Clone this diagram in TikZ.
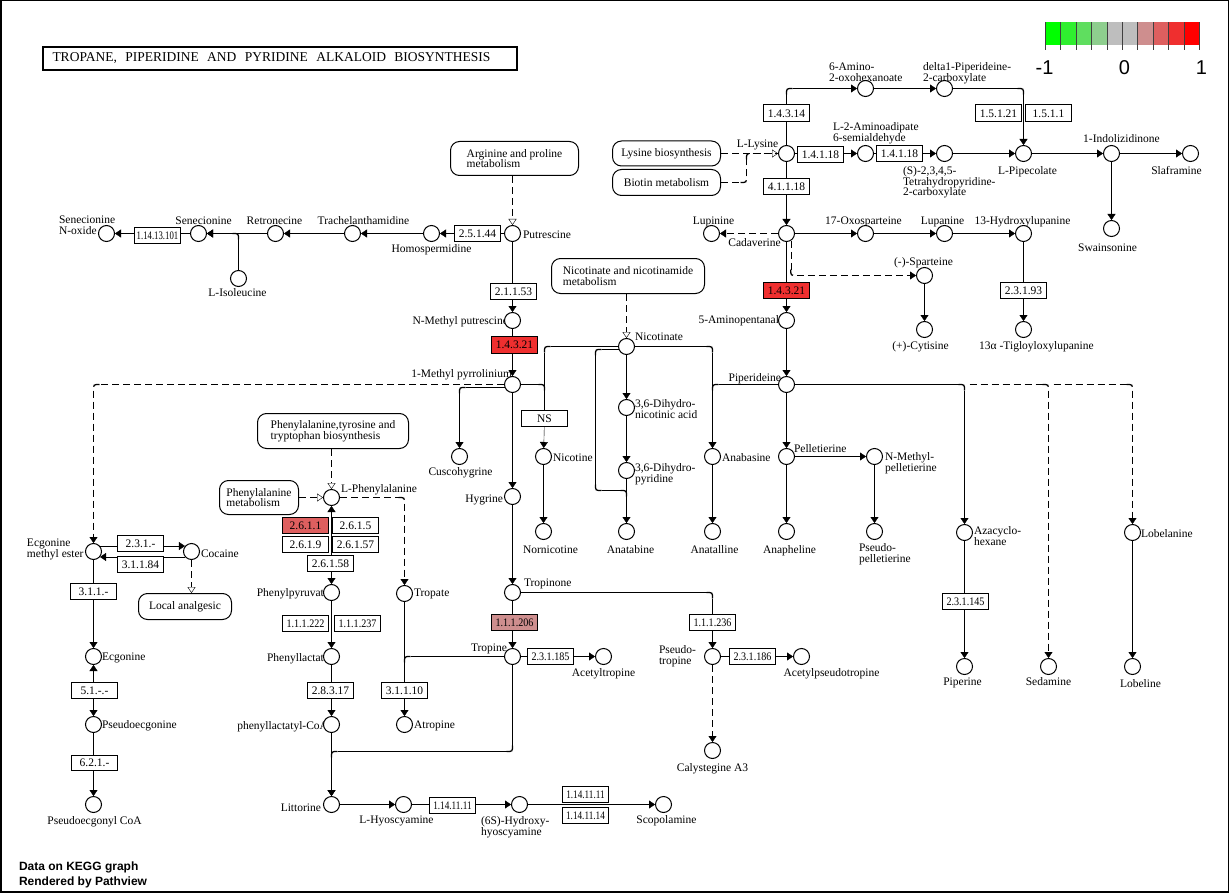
\documentclass[tikz,border=0pt]{standalone}
\usepackage{fontspec}
\usepackage{graphicx}
\setmainfont{Liberation Serif}
\newfontfamily\sansf{Liberation Sans}
\usetikzlibrary{arrows.meta,calc}
\pgfdeclarelayer{background}
\pgfsetlayers{background,main}
\newcommand\lab{\fontsize{11.5}{10.5}\selectfont}
\newcommand\sq[2]{\scalebox{#1}[1]{#2}}
\definecolor{hi1}{HTML}{EF2F2F}
\definecolor{hi2}{HTML}{DE5F5F}
\definecolor{hi3}{HTML}{CE8E8E}
% connector with one rounded corner: style, end style, start, corner, end
\newcommand\rcA[5]{%
  \draw[#1] (#3) -- ($(#4)!6pt!(#3)$);
  \draw[#1,line width=1.3pt] ($(#4)!6pt!(#3)$) .. controls (#4) .. ($(#4)!6pt!(#5)$);
  \draw[#1,#2] ($(#4)!6pt!(#5)$) -- (#5);}
% connector with two rounded corners
\newcommand\rcB[6]{%
  \draw[#1] (#3) -- ($(#4)!6pt!(#3)$);
  \draw[#1,line width=1.3pt] ($(#4)!6pt!(#3)$) .. controls (#4) .. ($(#4)!6pt!(#5)$);
  \draw[#1] ($(#4)!6pt!(#5)$) -- ($(#5)!6pt!(#4)$);
  \draw[#1,line width=1.3pt] ($(#5)!6pt!(#4)$) .. controls (#5) .. ($(#5)!6pt!(#6)$);
  \draw[#1,#2] ($(#5)!6pt!(#6)$) -- (#6);}
\tikzset{
 arr/.style={-{Triangle[length=6pt,width=8pt]}},
 arrb/.style={{Triangle[length=6pt,width=8pt]}-{Triangle[length=6pt,width=8pt]}},
 arro/.style={-{Triangle[open,length=6pt,width=8pt,fill=white]}},
 cpd/.style={circle,draw,fill=white,minimum size=16pt,inner sep=0pt,line width=1pt},
 enz/.style={rectangle,draw,fill=white,minimum width=46pt,minimum height=16pt,inner sep=0pt,line width=1pt,font=\fontsize{11.5}{12}\selectfont},
 mapb/.style={rectangle,rounded corners=9pt,draw,fill=white,align=left,inner sep=0pt,line width=1pt,font=\lab},
 lab/.style={inner sep=0pt,font=\lab},
 lab2/.style={inner sep=0pt,font=\lab,align=left,anchor=north west},
 dsh/.style={dash pattern=on 7pt off 4pt},
}
\begin{document}
\begin{tikzpicture}[x=1pt,y=-1pt,line width=1pt,shift={(0.5,0.5)}]
\useasboundingbox (-0.5,-0.5) rectangle (1229.5,892.5);
\draw[line width=1.2pt] (0.5,0) rectangle (1228,891.5);

% title
\node[draw,line width=2pt,anchor=west,inner xsep=0pt,minimum height=23pt,font=\fontsize{13.5}{14}\selectfont] (title) at (41,58)
 {\makebox[474pt][l]{\hspace{10pt}\makebox[438pt][s]{TROPANE, PIPERIDINE AND PYRIDINE ALKALOID BIOSYNTHESIS}}};

% legend
\foreach \c [count=\i from 0] in {00FF00,2FEF2F,5FDE5F,8ECE8E,BEBEBE,BEBEBE,CE8E8E,DE5F5F,EF2F2F,FF0000}{
  \definecolor{tmpc}{HTML}{\c}
  \fill[tmpc] ({1044.5+\i*15.4},21.5) rectangle ++(15.4,23);
}
\foreach \i in {0,...,10}{\draw[line width=1pt,black!75] ({1045+\i*15.4},22) -- ++(0,28);}
\node[inner sep=0pt,font=\sansf\fontsize{20}{20}\selectfont] (lgA) at (1044,67) {-1};
\node[inner sep=0pt,font=\sansf\fontsize{20}{20}\selectfont] (lgB) at (1124,67) {0};
\node[inner sep=0pt,font=\sansf\fontsize{20}{20}\selectfont] (lgC) at (1201,67) {1};

% footer
\node[anchor=base west,inner sep=0pt,font=\sansf\bfseries\fontsize{12}{12}\selectfont] (ftA) at (18,870) {Data on KEGG graph};
\node[anchor=base west,inner sep=0pt,font=\sansf\bfseries\fontsize{12}{12}\selectfont] (ftB) at (18,885) {Rendered by Pathview};

% ---------- labels ----------
\node[lab2] (snox-l) at (58,215) {Senecionine\\N-oxide};
\node[lab,anchor=base] (sen-l) at (203,224) {Senecionine};
\node[lab,anchor=base] (ret-l) at (274,224) {Retronecine};
\node[lab,anchor=base] (tra-l) at (363,224) {Trachelanthamidine};
\node[lab,anchor=base] (hom-l) at (431,252) {Homospermidine};
\node[lab,anchor=base west] (put-l) at (522,238) {Putrescine};
\node[lab,anchor=base] (ile-l) at (237,296) {L-Isoleucine};
\node[lab,anchor=base east] (nmp-l) at (508,324) {N-Methyl putrescine};
\node[lab,anchor=base east] (mpy-l) at (512,377) {1-Methyl pyrrolinium};
\node[lab,anchor=base] (cus-l) at (460,475) {Cuscohygrine};
\node[lab,anchor=base east] (hyg-l) at (503,502) {Hygrine};
\node[lab,anchor=base west] (nic-l) at (552,461) {Nicotine};
\node[lab,anchor=base] (nor-l) at (550,553) {Nornicotine};
\node[lab,anchor=base west] (nca-l) at (634,340) {Nicotinate};
\node[lab2] (dna-l) at (634,399) {3,6-Dihydro-\\nicotinic acid};
\node[lab2] (dpy-l) at (634,463) {3,6-Dihydro-\\pyridine};
\node[lab,anchor=base] (atb-l) at (630,553) {Anatabine};
\node[lab,anchor=base west] (anb-l) at (721,461) {Anabasine};
\node[lab,anchor=base] (ana-l) at (714,553) {Anatalline};
\node[lab,anchor=base] (aph-l) at (789,553) {Anapheline};
\node[lab,anchor=base west] (pel-l) at (793,452) {Pelletierine};
\node[lab2] (mpe-l) at (884,452) {N-Methyl-\\pelletierine};
\node[lab2] (pse-l) at (858,543) {Pseudo-\\pelletierine};
\node[lab,anchor=base east] (ppd-l) at (781,381) {Piperideine};
\node[lab,anchor=base east] (apn-l) at (779,323) {5-Aminopentanal};
\node[lab2] (aza-l) at (973,526) {Azacyclo-\\hexane};
\node[lab,anchor=base west] (lbn-l) at (1140,537) {Lobelanine};
\node[lab,anchor=base] (ppr-l) at (962,685) {Piperine};
\node[lab,anchor=base] (sed-l) at (1048,685) {Sedamine};
\node[lab,anchor=base] (lbl-l) at (1140,687) {Lobeline};
\node[lab,anchor=base] (cyt-l) at (920,349) {(+)-Cytisine};
\node[lab,anchor=base] (tig-l) at (1036,349) {13α -Tigloyloxylupanine};
\node[lab,anchor=base] (spa-l) at (923,265) {(-)-Sparteine};
\node[lab,anchor=base] (lup-l) at (713,224) {Lupinine};
\node[lab,anchor=base] (cad-l) at (754,246) {Cadaverine};
\node[lab,anchor=base] (oxo-l) at (863,224) {17-Oxosparteine};
\node[lab,anchor=base] (lpn-l) at (942,224) {Lupanine};
\node[lab,anchor=base] (hlu-l) at (1022,224) {13-Hydroxylupanine};
\node[lab,anchor=base] (lys-l) at (757,147) {L-Lysine};
\node[lab2] (aox-l) at (828,62) {6-Amino-\\2-oxohexanoate};
\node[lab2] (p2c-l) at (922,62) {delta1-Piperideine-\\2-carboxylate};
\node[lab2] (aas-l) at (832,122) {L-2-Aminoadipate\\6-semialdehyde};
\node[lab2] (thp-l) at (902,166) {(S)-2,3,4,5-\\Tetrahydropyridine-\\2-carboxylate};
\node[lab,anchor=base] (pip-l) at (1027,174) {L-Pipecolate};
\node[lab,anchor=base] (ind-l) at (1121,142) {1-Indolizidinone};
\node[lab,anchor=base] (sla-l) at (1176,174) {Slaframine};
\node[lab,anchor=base] (swa-l) at (1107,251) {Swainsonine};
\node[lab2] (emt-l) at (26,538) {Ecgonine\\methyl ester};
\node[lab,anchor=base west] (coc-l) at (200,557) {Cocaine};
\node[lab,anchor=base west] (ecg-l) at (101,660) {Ecgonine};
\node[lab,anchor=base west] (pec-l) at (101,728) {Pseudoecgonine};
\node[lab,anchor=base] (pco-l) at (94,824) {Pseudoecgonyl CoA};
\node[lab,anchor=base west] (phe-l) at (340,492) {L-Phenylalanine};
\node[lab,anchor=base east] (ppy-l) at (329,596) {Phenylpyruvate};
\node[lab,anchor=base east] (pla-l) at (329,661) {Phenyllactate};
\node[lab,anchor=base east] (plc-l) at (328,729) {phenyllactatyl-CoA};
\node[lab,anchor=base east] (lit-l) at (321,811) {Littorine};
\node[lab,anchor=base] (hyo-l) at (396,823) {L-Hyoscyamine};
\node[lab2] (hhy-l) at (480,816) {(6S)-Hydroxy-\\hyoscyamine};
\node[lab,anchor=base] (sco-l) at (666,823) {Scopolamine};
\node[lab,anchor=base west] (tpt-l) at (413,596) {Tropate};
\node[lab,anchor=base west] (atr-l) at (413,728) {Atropine};
\node[lab,anchor=base west] (trn-l) at (523,586) {Tropinone};
\node[lab,anchor=base east] (tro-l) at (507,651) {Tropine};
\node[lab,anchor=base] (act-l) at (603,676) {Acetyltropine};
\node[lab2] (pst-l) at (658,645) {Pseudo-\\tropine};
\node[lab,anchor=base] (aps-l) at (831,676) {Acetylpseudotropine};
\node[lab,anchor=base] (cal-l) at (712,771) {Calystegine A3};

% ---------- compounds ----------
\node[cpd] (snox) at (106,233) {};
\node[cpd] (sen) at (198,233) {};
\node[cpd] (ret) at (275,233) {};
\node[cpd] (tra) at (352,233) {};
\node[cpd] (hom) at (431,233) {};
\node[cpd] (put) at (512,233) {};
\node[cpd] (ile) at (238,278) {};
\node[cpd] (nmp) at (512,320) {};
\node[cpd] (mpy) at (512,384) {};
\node[cpd] (cus) at (459,456) {};
\node[cpd] (hyg) at (512,496) {};
\node[cpd] (nic) at (543,456) {};
\node[cpd] (nor) at (543,531) {};
\node[cpd] (nca) at (626,346) {};
\node[cpd] (dna) at (626,407) {};
\node[cpd] (dpy) at (626,470) {};
\node[cpd] (atb) at (626,531) {};
\node[cpd] (lys) at (786,153) {};
\node[cpd] (aox) at (865,88) {};
\node[cpd] (p2c) at (944,88) {};
\node[cpd] (aas) at (865,153) {};
\node[cpd] (thp) at (944,153) {};
\node[cpd] (pip) at (1023,153) {};
\node[cpd] (ind) at (1111,153) {};
\node[cpd] (sla) at (1190,153) {};
\node[cpd] (swa) at (1111,228) {};
\node[cpd] (cad) at (786,233) {};
\node[cpd] (lup) at (711,233) {};
\node[cpd] (oxo) at (865,233) {};
\node[cpd] (lpn) at (944,233) {};
\node[cpd] (hlu) at (1023,233) {};
\node[cpd] (tig) at (1023,329) {};
\node[cpd] (spa) at (924,275) {};
\node[cpd] (cyt) at (924,329) {};
\node[cpd] (apn) at (786,320) {};
\node[cpd] (ppd) at (786,384) {};
\node[cpd] (anb) at (712,456) {};
\node[cpd] (ana) at (712,531) {};
\node[cpd] (pel) at (786,456) {};
\node[cpd] (aph) at (786,531) {};
\node[cpd] (mpe) at (874,456) {};
\node[cpd] (pse) at (874,531) {};
\node[cpd] (aza) at (964,532) {};
\node[cpd] (ppr) at (964,666) {};
\node[cpd] (sed) at (1048,666) {};
\node[cpd] (lbn) at (1132,532) {};
\node[cpd] (lbl) at (1132,666) {};
\node[cpd] (emt) at (93,551) {};
\node[cpd] (coc) at (191,551) {};
\node[cpd] (ecg) at (93,656) {};
\node[cpd] (pec) at (93,724) {};
\node[cpd] (pco) at (93,804) {};
\node[cpd] (phe) at (331,497) {};
\node[cpd] (ppy) at (331,592) {};
\node[cpd] (pla) at (331,656) {};
\node[cpd] (plc) at (331,724) {};
\node[cpd] (lit) at (331,804) {};
\node[cpd] (hyo) at (403,804) {};
\node[cpd] (hhy) at (519,804) {};
\node[cpd] (sco) at (663,804) {};
\node[cpd] (tpt) at (404,593) {};
\node[cpd] (atr) at (404,724) {};
\node[cpd] (trn) at (512,592) {};
\node[cpd] (tro) at (512,656) {};
\node[cpd] (act) at (603,656) {};
\node[cpd] (pst) at (712,656) {};
\node[cpd] (aps) at (801,656) {};
\node[cpd] (cal) at (712,750) {};

% ---------- enzymes ----------
\node[enz] (e1) at (157,235) {\sq{0.76}{1.14.13.101}};
\node[enz] (e2) at (477,233) {2.5.1.44};
\node[enz] (e3) at (513,291) {2.1.1.53};
\node[enz,fill=hi1,minimum height=17pt] (e4) at (514,344) {1.4.3.21};
\node[enz] (e5) at (544,418) {NS};
\node[enz,minimum height=17pt] (e6) at (786,113) {1.4.3.14};
\node[enz] (e7) at (820,154) {1.4.1.18};
\node[enz] (e8) at (899,153) {1.4.1.18};
\node[enz,minimum height=17pt] (e9) at (998,113) {1.5.1.21};
\node[enz,minimum height=17pt] (e10) at (1048,113) {1.5.1.1};
\node[enz] (e11) at (786,186) {4.1.1.18};
\node[enz,fill=hi1] (e12) at (786,290) {1.4.3.21};
\node[enz] (e13) at (1023,290) {2.3.1.93};
\node[enz] (e14) at (965,601) {\sq{0.88}{2.3.1.145}};
\node[enz] (e15) at (140,543) {2.3.1.-};
\node[enz] (e16) at (140,564) {3.1.1.84};
\node[enz] (e17) at (93,591) {3.1.1.-};
\node[enz] (e18) at (94,690) {5.1.-.-};
\node[enz,minimum height=15pt] (e19) at (94,762) {6.2.1.-};
\node[enz,fill=hi2] (e20) at (305,525) {2.6.1.1};
\node[enz] (e21) at (355,525) {2.6.1.5};
\node[enz] (e22) at (305,544) {2.6.1.9};
\node[enz] (e23) at (355,544) {2.6.1.57};
\node[enz] (e24) at (330,563) {2.6.1.58};
\node[enz] (e25) at (305,623) {\sq{0.88}{1.1.1.222}};
\node[enz] (e26) at (357,623) {\sq{0.88}{1.1.1.237}};
\node[enz] (e27) at (330,690) {2.8.3.17};
\node[enz] (e28) at (404,690) {3.1.1.10};
\node[enz,fill=hi3] (e29) at (514,622) {\sq{0.88}{1.1.1.206}};
\node[enz] (e30) at (712,622) {\sq{0.88}{1.1.1.236}};
\node[enz] (e31) at (550,656) {\sq{0.88}{2.3.1.185}};
\node[enz] (e32) at (752,656) {\sq{0.88}{2.3.1.186}};
\node[enz] (e33) at (452,805) {\sq{0.8}{1.14.11.11}};
\node[enz] (e34) at (585,794) {\sq{0.8}{1.14.11.11}};
\node[enz] (e35) at (585,815) {\sq{0.8}{1.14.11.14}};

% ---------- map links ----------
\node[mapb,minimum width=128pt,minimum height=34pt] (arg) at (514,158) {Arginine and proline\\metabolism};
\node[mapb,minimum width=153pt,minimum height=35pt] (ncm) at (627.5,275.5) {Nicotinate and nicotinamide\\metabolism};
\node[mapb,minimum width=108pt,minimum height=25pt] (lysb) at (666,153) {Lysine biosynthesis};
\node[mapb,minimum width=108pt,minimum height=26pt] (bio) at (666,182) {Biotin metabolism};
\node[mapb,minimum width=151pt,minimum height=35pt] (ptt) at (332.5,430.5) {Phenylalanine,tyrosine and\\tryptophan biosynthesis};
\node[mapb,minimum width=79pt,minimum height=34pt] (pmet) at (258.5,497) {Phenylalanine\\metabolism};
\node[mapb,minimum width=93pt,minimum height=26pt] (lan) at (184.5,606) {Local analgesic};

% junction and corner points
\coordinate (loopc) at (595,490);
\coordinate (bioc) at (746,153);
\coordinate (cj1) at (969,384);
\coordinate (cj2) at (1053,384);
\coordinate (trj) at (512,751);
\coordinate (lm) at (595,420);
\coordinate (k1) at (ile.north |- sen.east);
\coordinate (k2) at (emt.north |- mpy.west);
\coordinate (k3) at (cus.north |- mpy.200);
\coordinate (k4) at (e5.north |- mpy.east);
\coordinate (k5) at (e5.north |- nca.west);
\coordinate (ka) at (loopc |- nca.200);
\coordinate (kb) at (atb.north |- loopc);
\coordinate (k7) at (anb.north |- nca.east);
\coordinate (k8) at (anb.north |- ppd.west);
\coordinate (k9) at (bioc |- bio.east);
\coordinate (k10) at (lys.north |- aox.west);
\coordinate (k11) at (pip.north |- p2c.east);
\coordinate (k12) at (cad.-60 |- spa.west);
\coordinate (k13) at (aza.north |- ppd.east);
\coordinate (k14) at (sed.north |- cj1);
\coordinate (k15) at (lbn.north |- cj2);
\coordinate (k16) at (tpt.north |- phe.east);
\coordinate (k17) at (e28.north |- tro.west);
\coordinate (k18) at (lit.north |- trj);
\coordinate (k19) at (pst.north |- trn.east);

% ---------- connectors ----------
\begin{pgfonlayer}{background}
\draw[arr] (put) -- (hom);
\draw[arr] (hom) -- (tra);
\draw[arr] (tra) -- (ret);
\draw[arr] (ret) -- (sen);
\rcA{}{arr}{ile.north}{k1}{sen.east}
\draw[arr] (sen) -- (snox);
\draw[dsh,arro] (arg.south -| put.north) -- (put.north);
\draw[arr] (put) -- (nmp);
\draw[arr] (nmp) -- (mpy);
\rcA{dsh}{arr}{mpy.west}{k2}{emt.north}
\rcA{}{arr}{mpy.200}{k3}{cus.north}
\draw[arr] (mpy) -- (hyg);
\draw[arr] (hyg) -- (trn);
\rcA{}{}{mpy.east}{k4}{e5.north}
\rcA{}{}{nca.west}{k5}{e5.north}
\draw[arr] (e5) -- (nic);
\draw[arr] (nic) -- (nor);
\draw[dsh,arro] (ncm.south -| nca.north) -- (nca.north);
\draw[arr] (nca) -- (dna);
\draw[arr] (dna) -- (dpy);
\draw[arr] (dpy) -- (atb);
\rcA{}{}{nca.200}{ka}{lm}
\rcB{}{}{lm}{loopc}{kb}{atb.north}
\rcA{}{arr}{nca.east}{k7}{anb.north}
\rcA{}{}{ppd.west}{k8}{anb.north}
\draw[arr] (anb) -- (ana);
% lysine
\draw[dsh,arro] (lysb.east) -- (lys.west);
\rcB{dsh}{}{bio.east}{k9}{bioc}{lys.west}
\rcA{}{arr}{lys.north}{k10}{aox.west}
\draw[arr] (aox) -- (p2c);
\rcA{}{arr}{p2c.east}{k11}{pip.north}
\draw[arr] (lys) -- (aas);
\draw[arr] (aas) -- (thp);
\draw[arr] (thp) -- (pip);
\draw[arr] (pip) -- (ind);
\draw[arr] (ind) -- (sla);
\draw[arr] (ind) -- (swa);
\draw[arr] (lys) -- (cad);
\draw[dsh,arr] (cad) -- (lup);
\draw[arr] (cad) -- (oxo);
\draw[arr] (oxo) -- (lpn);
\draw[arr] (lpn) -- (hlu);
\draw[arr] (hlu) -- (tig);
\rcA{dsh}{arr}{cad.-60}{k12}{spa.west}
\draw[arr] (spa) -- (cyt);
\draw[arr] (cad) -- (apn);
\draw[arr] (apn) -- (ppd);
\draw[arr] (ppd) -- (pel);
\draw[arr] (pel) -- (aph);
\draw[arr] (pel) -- (mpe);
\draw[arr] (mpe) -- (pse);
\rcA{}{arr}{ppd.east}{k13}{aza.north}
\rcA{dsh}{arr}{cj1}{k14}{sed.north}
\rcA{dsh}{arr}{cj2}{k15}{lbn.north}
\draw[arr] (aza) -- (ppr);
\draw[arr] (lbn) -- (lbl);
% cocaine
\draw[arr] (emt.40) -- (coc.140);
\draw[arr] (coc.220) -- (emt.320);
\draw[dsh,arro] (coc.south) -- (coc.south |- lan.north);
\draw[arr] (emt) -- (ecg);
\draw[arrb] (ecg) -- (pec);
\draw[arr] (pec) -- (pco);
% phenylalanine
\draw[dsh,arro] (ptt.south -| phe.north) -- (phe.north);
\draw[dsh,arro] (pmet.east) -- (phe.west);
\draw[arrb] (phe) -- (ppy);
\rcA{dsh}{arr}{phe.east}{k16}{tpt.north}
\draw[arr] (ppy) -- (pla);
\draw[arr] (pla) -- (plc);
\draw[arr] (plc) -- (lit);
\draw[arr] (tpt) -- (atr);
\rcA{}{}{tro.west}{k17}{e28.north}
\rcB{}{arr}{tro.south}{trj}{k18}{lit.north}
\draw[arr] (lit) -- (hyo);
\draw[arr] (hyo) -- (hhy);
\draw[arr] (hhy) -- (sco);
% tropinone
\draw[arr] (trn) -- (tro);
\rcA{}{arr}{trn.east}{k19}{pst.north}
\draw[arr] (tro) -- (act);
\draw[arr] (pst) -- (aps);
\draw[dsh,arr] (pst) -- (cal);
\end{pgfonlayer}
\end{tikzpicture}
\end{document}
